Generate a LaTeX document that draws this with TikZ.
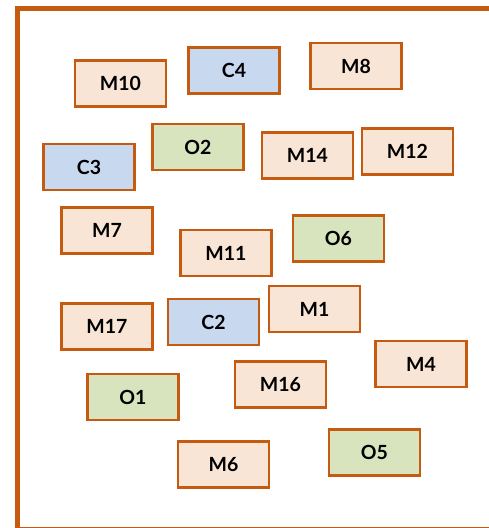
\documentclass[tikz,border=0pt]{standalone}
\usepackage{fontspec}
\setmainfont{Lato}
\definecolor{edge}{HTML}{C55A11}
\definecolor{peach}{HTML}{F8E5D5}
\definecolor{sky}{HTML}{C7D8EF}
\definecolor{sage}{HTML}{D8E4BE}
\tikzset{
  card/.style={draw=edge, line width=2.4pt, minimum width=91pt, minimum height=46pt,
    inner sep=0pt, font=\fontsize{19.5}{21}\selectfont\bfseries},
  mcard/.style={card, fill=peach},
  ccard/.style={card, fill=sky},
  ocard/.style={card, fill=sage},
}
\begin{document}
\begin{tikzpicture}[x=1pt,y=-1pt]
  \useasboundingbox (0,0) rectangle (489,528);
  % frame
  \coordinate (fb) at (17,530);
  \coordinate (ft) at (17,8);
  \coordinate (fr) at (492,8);
  \coordinate (bl) at (17,527);
  \coordinate (br) at (492,527);
  \draw[edge, line width=1pt] (bl) -- (br);
  \draw[edge, line width=5pt] (fb) -- (ft) -- (fr);
  % cards
  \node[mcard] (m10) at (120.5,83.5) {M10};
  \node[ccard] (c4)  at (234,70.5)  {C4};
  \node[mcard] (m8)  at (356,66)    {M8};
  \node[ocard] (o2)  at (198,147)   {O2};
  \node[mcard] (m14) at (307.5,155.5) {M14};
  \node[mcard] (m12) at (407.5,151.5) {M12};
  \node[ccard] (c3)  at (89,167)    {C3};
  \node[mcard] (m7)  at (107,230.5) {M7};
  \node[mcard] (m11) at (226,253)   {M11};
  \node[ocard] (o6)  at (338.5,238.5) {O6};
  \node[mcard] (m17) at (107,326.5) {M17};
  \node[ccard] (c2)  at (213.5,322) {C2};
  \node[mcard] (m1)  at (314.5,309) {M1};
  \node[mcard] (m4)  at (421,364)   {M4};
  \node[ocard] (o1)  at (133,397)   {O1};
  \node[mcard] (m16) at (280.5,384.5) {M16};
  \node[mcard] (m6)  at (223.5,464.5) {M6};
  \node[ocard] (o5)  at (374.5,452.5) {O5};
\end{tikzpicture}
\end{document}
